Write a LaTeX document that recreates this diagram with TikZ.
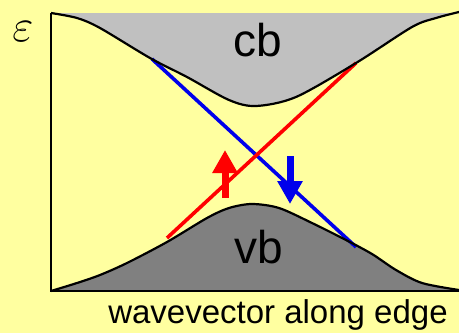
\RequirePackage{fix-cm}
\documentclass[tikz,border=0pt]{standalone}
\usepackage{fontspec}
\setmainfont{Liberation Sans}
\usetikzlibrary{arrows.meta}
\definecolor{bgyellow}{RGB}{255,255,160}
\definecolor{cbgray}{RGB}{192,192,192}
\definecolor{vbgray}{RGB}{128,128,128}
\definecolor{edgeblue}{RGB}{0,0,235}
\definecolor{edgered}{RGB}{255,0,0}

\begin{document}
\begin{tikzpicture}[x=1pt,y=-1pt,line width=2pt,
  band/.style={line width=2.2pt,black,line join=round},
  edge/.style={line width=3.6pt},
  spin/.style={-{Triangle[length=23pt,width=24pt]},line width=7pt},
  lbl/.style={inner sep=0pt}]
\useasboundingbox (0,0) rectangle (459,333);
\fill[bgyellow] (0,0) rectangle (459,333);
% ================= bands =================
\fill[cbgray] plot[smooth] coordinates {(51,13) (77,18) (100,28) (150,58) (187,77) (229,100)
  (256,106) (296,97) (356,63) (412,27) (436,18) (459,12)} -- (459,13) -- cycle;
\fill[vbgray] plot[smooth] coordinates {(51,291) (77,283) (100,275) (127,263) (167,242) (207,218)
  (229,208) (252,204) (279,208) (312,223) (346,240) (372,254) (396,270) (422,283) (459,290)} -- (459,291) -- cycle;
% ================= edge states =================
\coordinate (bluetop) at (152,59);
\coordinate (bluebot) at (356,247);
\coordinate (redbot) at (167,238);
\coordinate (redtop) at (356,63);
\draw[edge,edgeblue] (bluetop) -- (bluebot);
\draw[edge,edgered] (redbot) -- (redtop);
% band edges on top of the state lines
\draw[band] plot[smooth] coordinates {(51,13) (77,18) (100,28) (150,58) (187,77) (229,100)
  (256,106) (296,97) (356,63) (412,27) (436,18) (459,12)};
\draw[band] plot[smooth] coordinates {(51,291) (77,283) (100,275) (127,263) (167,242) (207,218)
  (229,208) (252,204) (279,208) (312,223) (346,240) (372,254) (396,270) (422,283) (459,290)};
% axes
\draw[line width=2.6pt] (51,13) -- (51,291) -- (459,291);
% spin arrows
\coordinate (upfoot) at (225,198);
\coordinate (uptip) at (225,150);
\coordinate (downfoot) at (290,156);
\coordinate (downtip) at (290,204);
\draw[spin,edgered] (upfoot) -- (uptip);
\draw[spin,edgeblue] (downfoot) -- (downtip);
% labels
\node[lbl] (eps) at (23,32) {\fontsize{46}{50}\selectfont$\varepsilon$};
\node[lbl] (cb) at (258,40) {\fontsize{46}{50}\selectfont cb};
\node[lbl] (vb) at (259,247) {\fontsize{46}{50}\selectfont vb};
\node[lbl,anchor=base] (kaxis) at (278,323) {\fontsize{33}{40}\selectfont wavevector along edge};
\end{tikzpicture}
\end{document}
